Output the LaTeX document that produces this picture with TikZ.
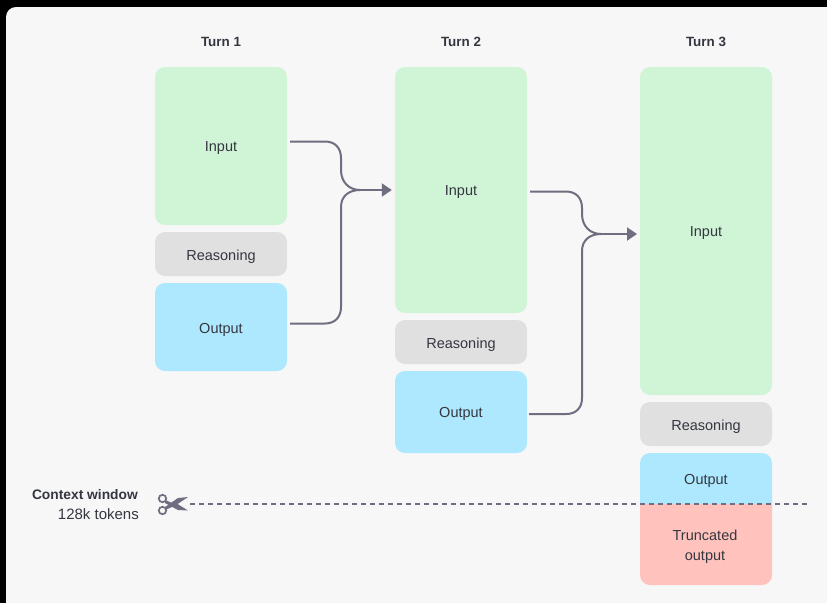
\documentclass[tikz,border=0pt]{standalone}
\usepackage{fontspec}
\setmainfont{Liberation Sans}
\usetikzlibrary{arrows.meta}
\definecolor{panelcol}{HTML}{F7F7F8}
\definecolor{greencol}{HTML}{D0F5D6}
\definecolor{greycol}{HTML}{E0E0E0}
\definecolor{bluecol}{HTML}{ADE8FF}
\definecolor{redcol}{HTML}{FFC2BC}
\definecolor{linecol}{HTML}{6E6E80}
\definecolor{textcol}{HTML}{353740}
\tikzset{
  block/.style={rounded corners=10pt,minimum width=132pt,inner sep=0pt,text=textcol,font=\fontsize{14.5}{18}\selectfont,text height=12pt,text depth=0pt},
  label/.style={text=textcol,font=\fontsize{14.5}{18}\selectfont,inner sep=0pt},
  heading/.style={label,font=\fontsize{13.4}{18}\selectfont\bfseries},
  link/.style={draw=linecol,line width=2pt},
  linkarrow/.style={link,-{Triangle[length=10pt,width=13pt]}}
}
\begin{document}
\begin{tikzpicture}[x=1pt,y=-1pt]
\useasboundingbox (0,0) rectangle (827,603);
% background
\fill[black] (0,0) rectangle (827,603);
\fill[panelcol] (827,603) -- (6,603) [rounded corners=10pt] -- (6,7) [sharp corners] -- (827,7) -- cycle;

% headings
\node[heading] (head1) at (221,42) {Turn 1};
\node[heading] (head2) at (461,42) {Turn 2};
\node[heading] (head3) at (706,42) {Turn 3};

% turn 1
\node[block,fill=greencol,minimum height=158pt,text height=10pt] (input1) at (221,146) {Input};
\node[block,fill=greycol,minimum height=44pt] (reason1) at (221,254) {Reasoning};
\node[block,fill=bluecol,minimum height=88pt] (output1) at (221,327) {Output};

% turn 2
\node[block,fill=greencol,minimum height=246pt,text height=10pt] (input2) at (461,190) {Input};
\node[block,fill=greycol,minimum height=44pt] (reason2) at (461,342) {Reasoning};
\node[block,fill=bluecol,minimum height=82pt,text height=10pt] (output2) at (461,412) {Output};

% turn 3
\node[block,fill=greencol,minimum height=328pt,text height=10pt] (input3) at (706,231) {Input};
\node[block,fill=greycol,minimum height=44pt] (reason3) at (706,424) {Reasoning};
\begin{scope}
\clip (630,445) rectangle (780,504);
\fill[bluecol,rounded corners=10pt] (640,453) rectangle (772,540);
\end{scope}
\begin{scope}
\clip (630,504) rectangle (780,595);
\fill[redcol,rounded corners=10pt] (640,470) rectangle (772,585);
\end{scope}
\node[label] (output3) at (706,480.5) {Output};
\node[label,align=center] (trunc3) at (705,547) {Truncated\\[2pt]output};

% connectors
\coordinate (start1) at (290,141.5);
\coordinate (start2) at (290,323.5);
\coordinate (start3) at (530,191.5);
\coordinate (start4) at (529,414);
\draw[link] (start1) -- (325,141.5) .. controls (335,141.5) and (341,148) .. (341,158) -- (341,170) .. controls (341,182) and (349,190) .. (360,190);
\draw[link] (start2) -- (325,323.5) .. controls (335,323.5) and (341,317) .. (341,307) -- (341,207) .. controls (341,196) and (349,190) .. (360,190);
\draw[linkarrow] (357,190) -- ([xshift=-3pt]input2.west);
\draw[link] (start3) -- (566,191.5) .. controls (576,191.5) and (582,198) .. (582,208) -- (582,214) .. controls (582,226) and (590,234) .. (601,234);
\draw[link] (start4) -- (566,414) .. controls (576,414) and (582,408) .. (582,398) -- (582,251) .. controls (582,240) and (590,234) .. (601,234);
\coordinate (target3) at (637,234);
\draw[linkarrow] (598,234) -- (target3);

% context window
\node[heading,anchor=east,font=\fontsize{13.8}{18}\selectfont\bfseries] (window) at (138,494.5) {Context window};
\node[label,anchor=east,font=\fontsize{15}{18}\selectfont] (tokens) at (139,514.5) {128k tokens};
\coordinate (cutleft) at (190,503.5);
\coordinate (cutright) at (807,503.5);
\draw[linecol,line width=2pt,dash pattern=on 5pt off 4pt] (cutleft) -- (cutright);

% scissors
\draw[linecol,line width=1.7pt] (162.5,498.5) circle [radius=3.7];
\draw[linecol,line width=1.7pt] (162.5,510.5) circle [radius=3.7];
\fill[linecol] (165.5,500) -- (172,503) -- (176,503) -- (188,510.5) -- (178,510) -- (165,503) -- cycle;
\fill[linecol] (165,507) -- (178,498) -- (188,497) -- (176,505) -- (165.5,510) -- cycle;
\end{tikzpicture}
\end{document}
